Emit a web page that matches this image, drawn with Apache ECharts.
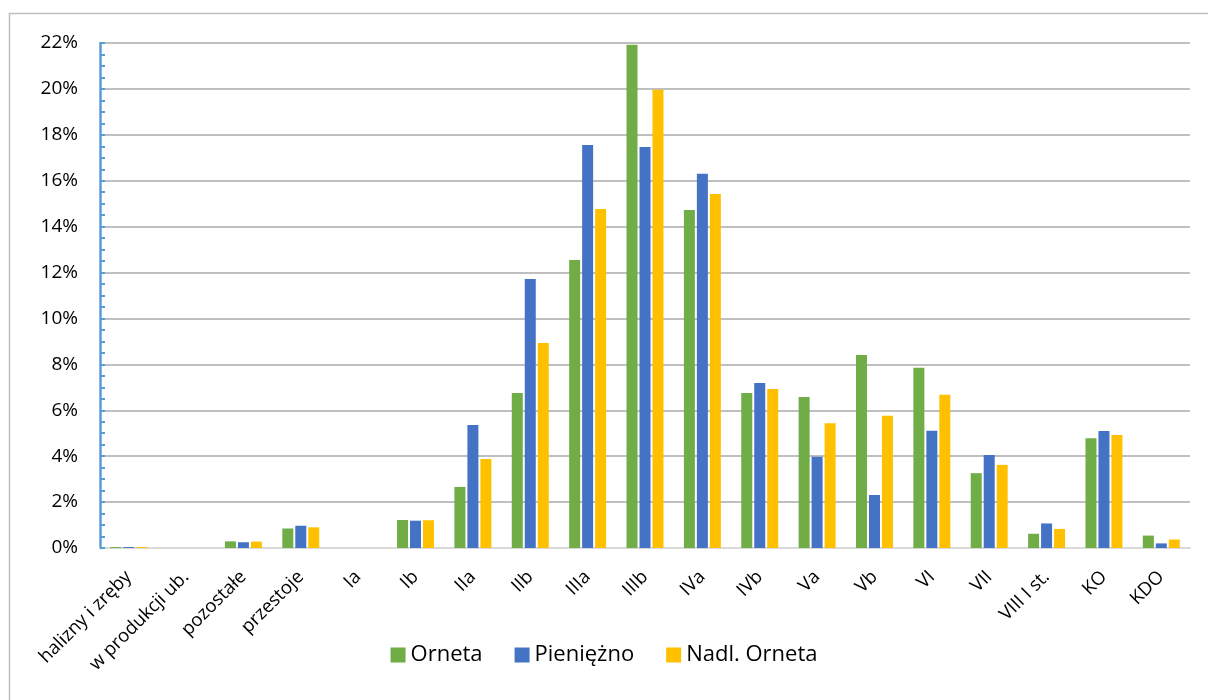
<!DOCTYPE html>
<html>
<head>
<meta charset="utf-8">
<script src="https://cdn.jsdelivr.net/npm/echarts@6/dist/echarts.min.js"></script>
<style>html,body{margin:0;padding:0;background:#fff}#c{width:1208px;height:700px}</style>
</head>
<body>
<div id="c"></div>
<script>
const categories = ['halizny i zręby','w produkcji ub.','pozostałe','przestoje','Ia','Ib','IIa','IIb','IIIa','IIIb','IVa','IVb','Va','Vb','VI','VII','VIII I st.','KO','KDO'];
const seriesNames = ['Orneta','Pieniężno','Nadl. Orneta'];
const orneta =    [0.04, 0, 0.29, 0.85, 0, 1.22, 2.66, 6.75, 12.55, 21.92, 14.73, 6.75, 6.58, 8.41, 7.85, 3.26, 0.62, 4.78, 0.54];
const pieniezno = [0.04, 0, 0.25, 0.97, 0, 1.19, 5.36, 11.72, 17.56, 17.47, 16.30, 7.19, 3.97, 2.31, 5.11, 4.05, 1.07, 5.10, 0.20];
const nadl =      [0.04, 0, 0.28, 0.90, 0, 1.21, 3.88, 8.93, 14.77, 19.96, 15.42, 6.93, 5.43, 5.76, 6.68, 3.62, 0.83, 4.92, 0.37];
const yTicks = [0, 2, 4, 6, 8, 10, 12, 14, 16, 18, 20, 22];

const colors = ['#70AD47', '#4472C4', '#FFC000'];
const font = '"Open Sans", sans-serif';
const chart = echarts.init(document.getElementById('c'));
const mk = (name, data, color) => ({
  name, type: 'bar', data, barWidth: 11, barGap: '18%',
  itemStyle: { color }
});
chart.setOption({
  animation: false,
  color: colors,
  graphic: [{ type: 'rect', shape: { x: 9.5, y: 13.5, width: 1220, height: 720 },
    style: { fill: 'none', stroke: '#BFBFBF', lineWidth: 1.5 }, silent: true }],
  grid: { left: 100, right: 18, top: 43, bottom: 152, show: true, borderColor: '#BFBFBF', borderWidth: 0 },
  legend: {
    bottom: 29, left: 'center', itemWidth: 15, itemHeight: 15, itemGap: 32, icon: 'rect',
    textStyle: { fontFamily: font, fontSize: 22, color: '#000' },
    data: seriesNames
  },
  xAxis: {
    type: 'category', data: categories,
    axisLine: { show: true, lineStyle: { color: '#D9D9D9', width: 2 } },
    axisTick: { show: false },
    axisLabel: { rotate: 45, interval: 0, fontFamily: font, fontSize: 18.5, color: '#000', margin: 26 },
    splitLine: { show: false }
  },
  yAxis: {
    type: 'value', min: 0, max: 22, interval: 2,
    axisLine: { show: true, onZero: false, lineStyle: { color: '#5B9BD5', width: 2.5 } },
    axisTick: { show: true, inside: true, length: 5, lineStyle: { color: '#5B9BD5', width: 2 } },
    minorTick: { show: true, splitNumber: 4, length: 5, lineStyle: { color: '#5B9BD5', width: 2 } },
    axisLabel: { formatter: v => yTicks.includes(v) ? v + '%' : '', fontFamily: font, fontSize: 19, color: '#000', margin: 22 },
    splitLine: { show: true, lineStyle: { color: '#BFBFBF', width: 2 } }
  },
  series: [mk(seriesNames[0], orneta, colors[0]), mk(seriesNames[1], pieniezno, colors[1]), mk(seriesNames[2], nadl, colors[2]),
    { type: 'line', data: [], markLine: { silent: true, symbol: 'none', label: { show: false },
      lineStyle: { color: '#BFBFBF', width: 2, type: 'solid' },
      data: [[{ coord: [categories.length - 0.5, 0] }, { coord: [categories.length - 0.5, 22] }]] } }]
});
</script>
</body>
</html>
